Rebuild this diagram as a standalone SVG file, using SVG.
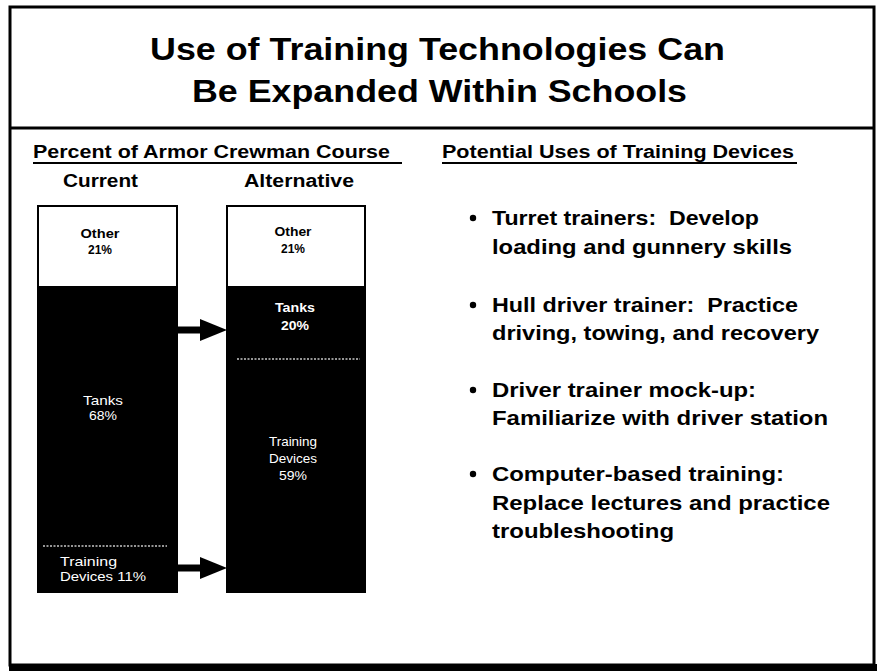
<svg xmlns="http://www.w3.org/2000/svg" width="878" height="671" viewBox="0 0 878 671">
<style>
text{font-family:"Liberation Sans",Arial,Helvetica,sans-serif;font-weight:bold;fill:#000}
.title{font-size:31px}
.head{font-size:18px}
.bul{font-size:20.5px;white-space:pre}
.lbl{font-size:12px}
.wl{fill:#fff;font-size:13px;font-weight:normal}
.wb{fill:#fff;font-size:13px}
.frame{fill:none;stroke:#000;stroke-width:3}
.bar{stroke:#000;stroke-width:2}
.dots{stroke:#c8c8c8;stroke-width:1.5;stroke-dasharray:2 1.5}
.shaft{stroke:#000;stroke-width:7}
</style>
<defs>
<marker id="ah" viewBox="0 0 27 22" refX="0" refY="11" markerWidth="27" markerHeight="22" markerUnits="userSpaceOnUse" orient="auto">
<path d="M0,0 L27,11 L0,22 Z" fill="#000"/>
</marker>
</defs>
<rect width="878" height="671" fill="#fff"/>
<g id="frame">
<rect class="frame" x="10" y="7" width="864" height="658"/>
<rect x="9" y="664" width="868" height="7" fill="#000"/>
<line x1="10" y1="128" x2="874" y2="128" stroke="#000" stroke-width="3"/>
</g>
<g id="title">
<text class="title" x="150" y="60" textLength="575" lengthAdjust="spacingAndGlyphs">Use of Training Technologies Can</text>
<text class="title" x="192" y="102" textLength="495" lengthAdjust="spacingAndGlyphs">Be Expanded Within Schools</text>
</g>
<g id="chart-header">
<text class="head" x="33" y="158" textLength="357" lengthAdjust="spacingAndGlyphs">Percent of Armor Crewman Course</text>
<line x1="33" y1="163" x2="402" y2="163" stroke="#000" stroke-width="2"/>
<text class="head" x="63" y="187" textLength="75" lengthAdjust="spacingAndGlyphs">Current</text>
<text class="head" x="244" y="187" textLength="110" lengthAdjust="spacingAndGlyphs">Alternative</text>
</g>
<g id="bar-current">
<rect class="bar" x="38" y="206" width="139" height="386" fill="#fff"/>
<rect x="38" y="286" width="139" height="306" fill="#000"/>
<line class="dots" x1="43" y1="546" x2="167" y2="546"/>
<text class="lbl" x="100" y="238" text-anchor="middle" textLength="39" lengthAdjust="spacingAndGlyphs">Other</text>
<text class="lbl" x="100" y="254" text-anchor="middle" textLength="24" lengthAdjust="spacingAndGlyphs">21%</text>
<text class="wl" x="103" y="405" text-anchor="middle" textLength="40" lengthAdjust="spacingAndGlyphs">Tanks</text>
<text class="wl" x="103" y="420" text-anchor="middle" textLength="28" lengthAdjust="spacingAndGlyphs">68%</text>
<text class="wl" x="60" y="566" textLength="57" lengthAdjust="spacingAndGlyphs">Training</text>
<text class="wl" x="60" y="581" textLength="86" lengthAdjust="spacingAndGlyphs">Devices 11%</text>
</g>
<g id="bar-alternative">
<rect class="bar" x="227" y="206" width="138" height="386" fill="#fff"/>
<rect x="227" y="286" width="138" height="306" fill="#000"/>
<line class="dots" x1="237" y1="359" x2="360" y2="359"/>
<text class="lbl" x="293" y="236" text-anchor="middle" textLength="37" lengthAdjust="spacingAndGlyphs">Other</text>
<text class="lbl" x="293" y="253" text-anchor="middle" textLength="24" lengthAdjust="spacingAndGlyphs">21%</text>
<text class="wb" x="295" y="312" text-anchor="middle" textLength="40" lengthAdjust="spacingAndGlyphs">Tanks</text>
<text class="wb" x="295" y="330" text-anchor="middle" textLength="28" lengthAdjust="spacingAndGlyphs">20%</text>
<text class="wl" x="293" y="446" text-anchor="middle" textLength="48" lengthAdjust="spacingAndGlyphs">Training</text>
<text class="wl" x="293" y="463" text-anchor="middle" textLength="48" lengthAdjust="spacingAndGlyphs">Devices</text>
<text class="wl" x="293" y="480" text-anchor="middle" textLength="28" lengthAdjust="spacingAndGlyphs">59%</text>
</g>
<g id="connectors">
<line class="shaft" x1="178" y1="330" x2="200" y2="330" marker-end="url(#ah)"/>
<line class="shaft" x1="177" y1="568" x2="200" y2="568" marker-end="url(#ah)"/>
</g>
<g id="uses-header">
<text class="head" x="442" y="158" textLength="352" lengthAdjust="spacingAndGlyphs">Potential Uses of Training Devices</text>
<line x1="442" y1="163" x2="797" y2="163" stroke="#000" stroke-width="2"/>
</g>
<g id="bullet-1">
<circle cx="473" cy="218" r="3.2"/>
<text class="bul" x="492" y="225" textLength="267" lengthAdjust="spacingAndGlyphs" xml:space="preserve">Turret trainers:  Develop</text>
<text class="bul" x="492" y="254" textLength="300" lengthAdjust="spacingAndGlyphs">loading and gunnery skills</text>
</g>
<g id="bullet-2">
<circle cx="473" cy="305" r="3.2"/>
<text class="bul" x="492" y="312" textLength="306" lengthAdjust="spacingAndGlyphs" xml:space="preserve">Hull driver trainer:  Practice</text>
<text class="bul" x="492" y="340" textLength="327" lengthAdjust="spacingAndGlyphs">driving, towing, and recovery</text>
</g>
<g id="bullet-3">
<circle cx="473" cy="390" r="3.2"/>
<text class="bul" x="492" y="397" textLength="264" lengthAdjust="spacingAndGlyphs">Driver trainer mock-up:</text>
<text class="bul" x="492" y="425" textLength="336" lengthAdjust="spacingAndGlyphs">Familiarize with driver station</text>
</g>
<g id="bullet-4">
<circle cx="473" cy="474" r="3.2"/>
<text class="bul" x="492" y="481" textLength="292" lengthAdjust="spacingAndGlyphs">Computer-based training:</text>
<text class="bul" x="492" y="510" textLength="338" lengthAdjust="spacingAndGlyphs">Replace lectures and practice</text>
<text class="bul" x="492" y="538" textLength="182" lengthAdjust="spacingAndGlyphs">troubleshooting</text>
</g>
</svg>
